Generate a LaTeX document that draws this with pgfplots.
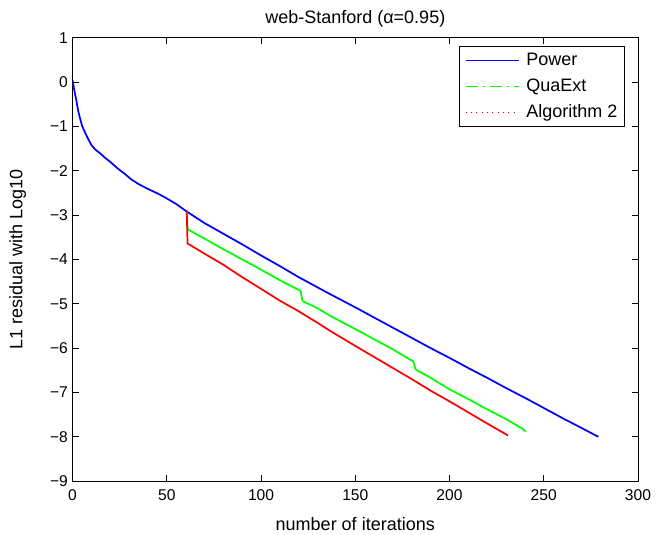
\documentclass[border=0pt]{standalone}
\usepackage{pgfplots}
\pgfplotsset{compat=1.18}
\usepackage{fontspec}
\setmainfont{Liberation Sans}
\begin{document}
\begin{tikzpicture}[x=1pt,y=1pt]
\begin{axis}[
 scale only axis,width=424pt,height=332.5pt,
 xmin=0,xmax=300,ymin=-9,ymax=1,
 xtick={0,50,...,300},ytick={-9,-8,...,1},
 yticklabels={−9,−8,−7,−6,−5,−4,−3,−2,−1,0,1},
 /pgf/number format/assume math mode=true,
 tick align=inside,major tick length=4.5pt,
 tick style={black,line width=0.5pt},
 axis line style={line width=0.6pt},
 tick label style={font=\fontsize{11.7}{13}\selectfont},
 xticklabel style={yshift=-2.5pt},
 label style={font=\fontsize{13.5}{15}\selectfont},
 title={web-Stanford (α=0.95)},
 title style={font=\fontsize{13.5}{15}\selectfont,yshift=-1.5pt},
 xlabel={number of iterations},ylabel={L1 residual with Log10},
 xlabel style={yshift=-6pt},ylabel style={yshift=11pt},
 legend cell align=left,
 legend style={at={(0.976,0.981)},anchor=north east,draw=black,line width=0.5pt,
   font=\fontsize{13.5}{15}\selectfont,row sep=4.5pt,inner sep=3pt},
 legend image code/.code={\draw[#1] (0pt,0pt) -- (40pt,0pt);\path (-1pt,0pt) (43pt,0pt);},
]
\addlegendimage{draw=blue,line width=0.6pt}
\addlegendentry{Power}
\addlegendimage{draw=green,line width=0.7pt,dash pattern=on 9pt off 4pt on 1.2pt off 4pt}
\addlegendentry{QuaExt}
\addlegendimage{draw=red,line width=0.9pt,dash pattern=on 0.7pt off 3.3pt}
\addlegendentry{Algorithm 2}
% Power
\addplot[blue,line width=1.3pt,forget plot] coordinates {
(0,0.04) (1,-0.2) (2,-0.41) (3,-0.65) (4,-0.82) (5,-0.98) (6,-1.08) (7,-1.17)
(8,-1.26) (10,-1.42) (12,-1.52) (15,-1.62) (17,-1.70) (20,-1.80) (24,-1.95)
(28,-2.08) (31,-2.19) (35,-2.30) (40,-2.41) (45,-2.51) (49,-2.60) (55,-2.75)
(60.6,-2.92) (70,-3.18) (80,-3.42) (90,-3.66) (100,-3.91) (110,-4.15) (120,-4.40)
(130,-4.63) (137,-4.79) (150,-5.08) (160,-5.31) (170,-5.54) (180,-5.77) (190,-6.0)
(200,-6.22) (210,-6.45) (220,-6.67) (230,-6.90) (240,-7.12) (250,-7.35)
(260,-7.58) (270,-7.80) (279,-8.0)};
% QuaExt
\addplot[green,line width=1.3pt,forget plot] coordinates {
(60.6,-2.92) (61,-3.32) (70,-3.53) (80,-3.77) (90,-4.0) (100,-4.23) (110,-4.47)
(121,-4.71) (122,-4.94) (130,-5.10) (137,-5.28) (150,-5.57) (160,-5.80)
(170,-6.03) (180.8,-6.30) (182,-6.48) (190,-6.67) (200,-6.93) (210,-7.15)
(220,-7.38) (230,-7.60) (238,-7.80) (240.5,-7.88)};
% Algorithm 2
\addplot[red,line width=1.3pt,forget plot] coordinates {
(60.6,-2.92) (61,-3.64) (70,-3.87) (80,-4.12) (90,-4.40) (101,-4.69) (110,-4.93)
(120,-5.17) (130,-5.43) (137,-5.62) (150,-5.95) (160,-6.20) (170,-6.45)
(180,-6.70) (190,-6.96) (200,-7.20) (210,-7.45) (220,-7.70) (231,-7.97)};
\end{axis}
\pgfresetboundingbox
\path[use as bounding box] (-54.4pt,-39.75pt) rectangle (438.25pt,360.8pt);
\end{tikzpicture}
\end{document}
